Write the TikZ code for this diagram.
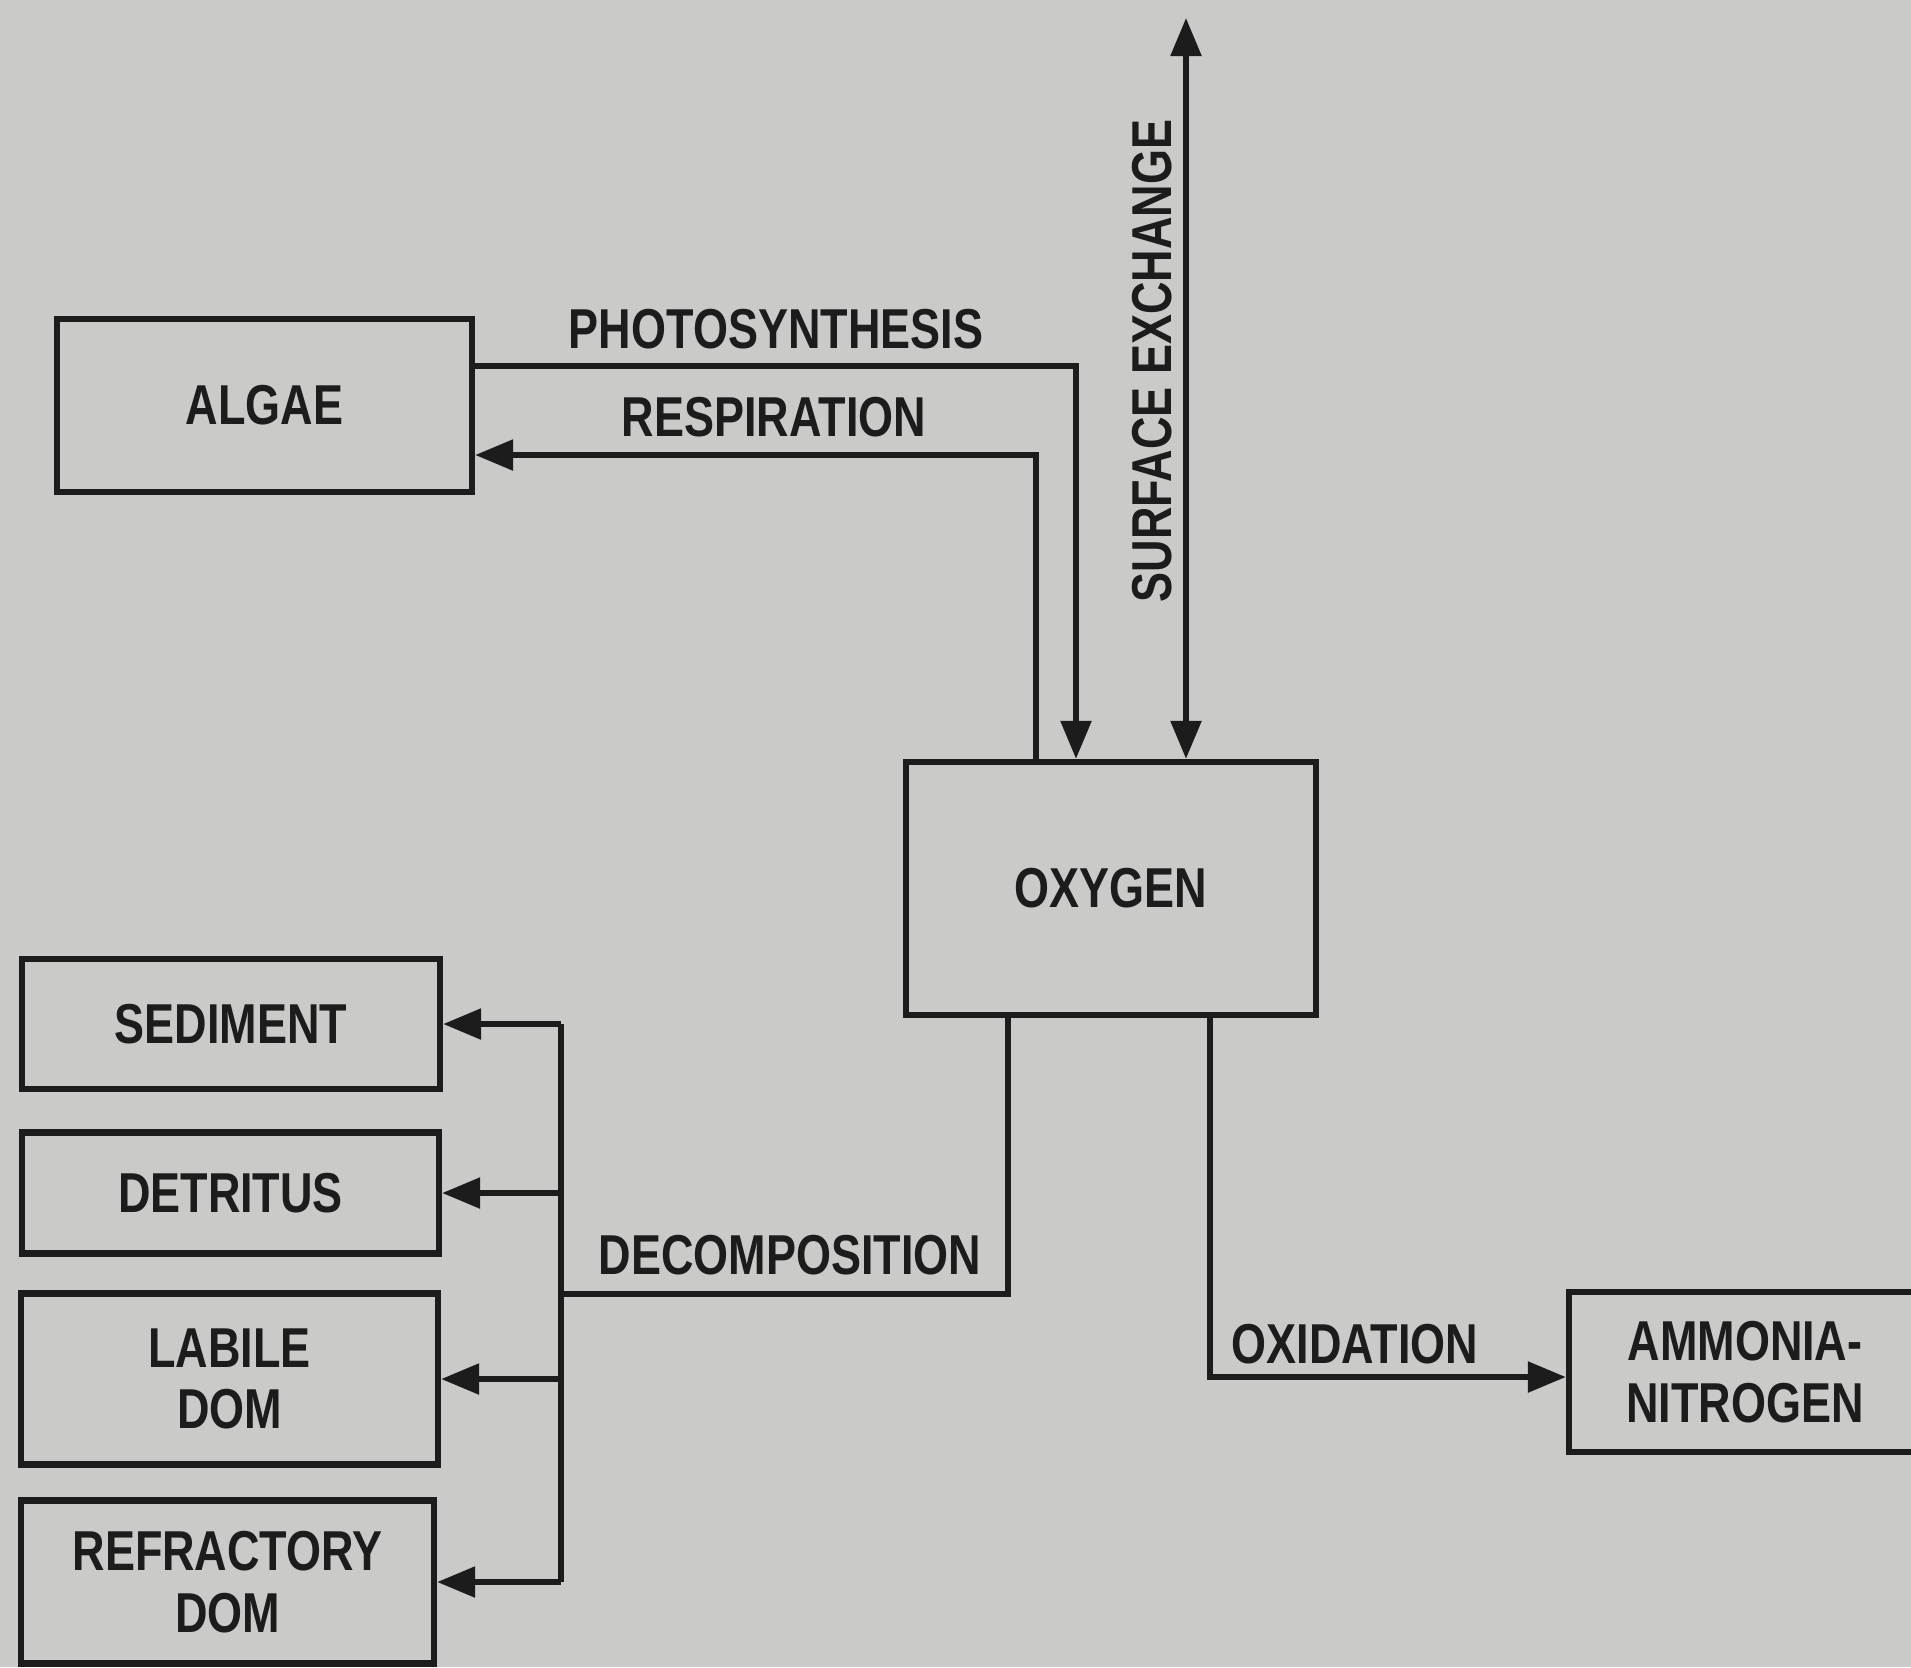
\documentclass[tikz,border=0pt]{standalone}
\usepackage{fontspec}
\setmainfont{Liberation Sans}[FakeStretch=0.80]
\usepackage{tikz}
\usetikzlibrary{arrows.meta, positioning, calc}
\usepackage{xcolor}
\definecolor{papercol}{RGB}{202,202,200}
\definecolor{inkcol}{RGB}{28,28,28}
\tikzset{
  box/.style={rectangle, draw=inkcol, line width=1.8pt,
    text centered, align=center, font=\fontsize{16}{17.5}\selectfont\bfseries,
    inner sep=2pt, text=inkcol},
  lbl/.style={font=\fontsize{16}{19}\selectfont\bfseries, text=inkcol, inner sep=0pt},
  flow/.style={-{Triangle[length=3.8mm,width=3.0mm]}, line width=1.6pt, draw=inkcol},
  flow2/.style={{Triangle[length=3.8mm,width=3.0mm]}-{Triangle[length=3.8mm,width=3.0mm]},
    line width=1.6pt, draw=inkcol},
  wire/.style={line width=1.6pt, draw=inkcol},
}
\begin{document}
\begin{tikzpicture}
  % page
  \fill[papercol] (0,0) rectangle (19.11,-16.67);
  \useasboundingbox (0,0) rectangle (19.11,-16.67);

  % Compartments
  \node[box, minimum width=4.15cm, minimum height=1.73cm] (algae) at (2.645,-4.055) {ALGAE};
  \node[box, minimum width=4.10cm, minimum height=2.53cm] (oxygen) at (11.11,-8.885) {OXYGEN};
  \node[box, minimum width=4.18cm, minimum height=1.30cm] (sediment) at (2.31,-10.24) {SEDIMENT};
  \node[box, minimum width=4.17cm, minimum height=1.21cm] (detritus) at (2.305,-11.93) {DETRITUS};
  \node[box, minimum width=4.17cm, minimum height=1.71cm] (labile) at (2.295,-13.79) {LABILE\\DOM};
  \node[box, minimum width=4.13cm, minimum height=1.63cm] (refractory) at (2.275,-15.82) {REFRACTORY\\DOM};
  \node[box, minimum width=3.52cm, minimum height=1.60cm] (ammonia) at (17.45,-13.72) {AMMONIA-\\NITROGEN};

  % Algae <-> oxygen
  \coordinate (pk) at (10.76,-3.66);
  \coordinate (rk) at (10.36,-4.55);
  \draw[flow] (algae.east |- pk) -- (pk) -- (pk |- oxygen.north);
  \draw[flow] (rk |- oxygen.north) -- (rk) -- (algae.east |- rk);
  \node[lbl] (photo) at (7.76,-3.29) {PHOTOSYNTHESIS};
  \node[lbl] (resp) at (7.74,-4.17) {RESPIRATION};

  % Surface exchange
  \coordinate (sx) at (11.86,-0.18);
  \draw[flow2] (sx) -- (sx |- oxygen.north);
  \node[lbl, rotate=90] (surf) at (11.52,-3.61) {SURFACE EXCHANGE};

  % Decomposition
  \coordinate (dk) at (10.08,-12.94);
  \coordinate (bus) at (5.61,-12.94);
  \draw[wire] (dk |- oxygen.south) -- (dk) -- (bus);
  \draw[wire] (bus |- sediment.east) -- (bus |- refractory.east);
  \foreach \n in {sediment, detritus, labile, refractory}
    \draw[flow] (bus |- \n.east) -- (\n.east);
  \node[lbl] (decomp) at (7.90,-12.55) {DECOMPOSITION};

  % Oxidation
  \coordinate (ok) at (12.10,-13.77);
  \draw[flow] (ok |- oxygen.south) -- (ok) -- (ammonia.west |- ok);
  \node[lbl] (oxid) at (13.55,-13.44) {OXIDATION};
\end{tikzpicture}
\end{document}
